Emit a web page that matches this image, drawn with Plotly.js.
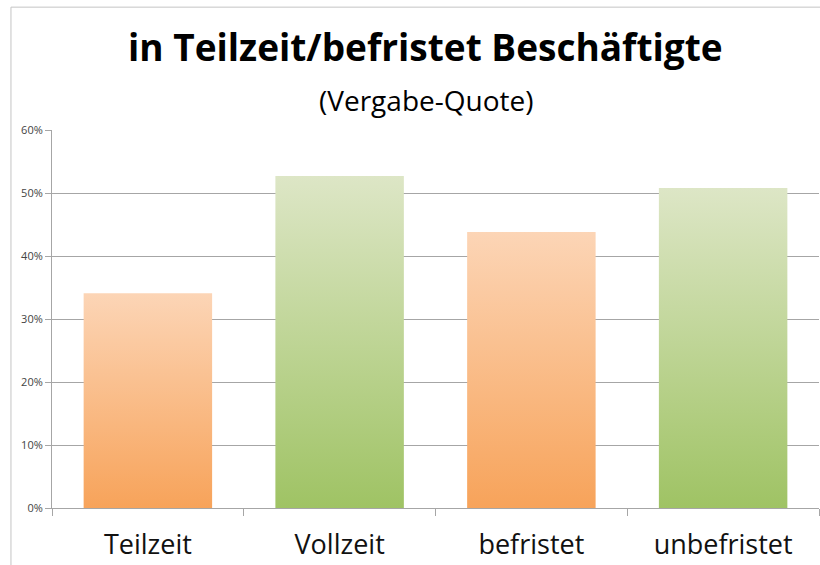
<!DOCTYPE html>
<html>
<head>
<meta charset="utf-8">
<script src="https://cdn.plot.ly/plotly-3.0.1.min.js"></script>
<style>html,body{margin:0;padding:0;background:#fff}#chart{width:820px;height:565px}</style>
</head>
<body>
<div id="chart"></div>
<script>
const categories = ['Teilzeit', 'Vollzeit', 'befristet', 'unbefristet'];
const values = [0.341, 0.527, 0.438, 0.508];
const topColors = ['#fcd5b6', '#dde6c6', '#fcd5b6', '#dde6c6'];
const bottomColors = ['#f7a35a', '#9fc364', '#f7a35a', '#9fc364'];
const titleText = '<b>in Teilzeit/befristet Beschäftigte</b>';
const subtitleText = '(Vergabe-Quote)';

const trace = {
  type: 'bar',
  x: categories,
  y: values,
  width: 0.67,
  marker: {color: bottomColors, line: {width: 0}},
  hoverinfo: 'x+y'
};

const font = '"Open Sans", "Noto Sans", sans-serif';
const layout = {
  width: 820, height: 565,
  margin: {l: 52, r: 1, t: 130, b: 57},
  paper_bgcolor: '#ffffff', plot_bgcolor: '#ffffff',
  showlegend: false,
  font: {family: font, color: '#222'},
  xaxis: {
    type: 'category', range: [-0.5, 3.5],
    showgrid: false, showline: true, linecolor: '#a6a6a6', linewidth: 1,
    ticks: 'outside', tickson: 'boundaries', ticklen: 7, tickcolor: '#a6a6a6',
    ticklabelstandoff: 13,
    tickfont: {size: 27, color: '#111', family: font}, zeroline: false, fixedrange: true
  },
  yaxis: {
    range: [0, 0.6], dtick: 0.1, tickformat: '.0%',
    showgrid: true, gridcolor: '#a6a6a6', gridwidth: 1,
    showline: true, linecolor: '#a6a6a6', linewidth: 1,
    ticks: 'outside', ticklen: 6, tickcolor: '#a6a6a6',
    tickfont: {size: 11, color: '#444', family: font}, zeroline: false, fixedrange: true
  },
  annotations: [
    {text: titleText, xref: 'paper', yref: 'paper', x: 0.487, y: 1.22, xanchor: 'center', yanchor: 'middle',
     showarrow: false, font: {size: 37, color: '#000', family: font}},
    {text: subtitleText, xref: 'paper', yref: 'paper', x: 0.488, y: 1.079, xanchor: 'center', yanchor: 'middle',
     showarrow: false, font: {size: 28, color: '#000', family: font}}
  ],
  shapes: [
    {type: 'line', xref: 'paper', yref: 'paper', x0: -0.0535, x1: -0.0535, y0: -0.16, y1: 1.325,
     line: {color: '#c4c4c4', width: 1}},
    {type: 'line', xref: 'paper', yref: 'paper', x0: -0.0535, x1: 1.01, y0: 1.325, y1: 1.325,
     line: {color: '#c4c4c4', width: 1}}
  ]
};

Plotly.newPlot('chart', [trace], layout, {displayModeBar: false, staticPlot: true}).then(function (gd) {
  const svg = gd.querySelector('svg.main-svg');
  const ns = 'http://www.w3.org/2000/svg';
  let defs = svg.querySelector('defs');
  if (!defs) { defs = document.createElementNS(ns, 'defs'); svg.insertBefore(defs, svg.firstChild); }
  const paths = gd.querySelectorAll('.barlayer .point path');
  paths.forEach(function (p, i) {
    const id = 'bargrad' + i;
    const g = document.createElementNS(ns, 'linearGradient');
    g.setAttribute('id', id);
    g.setAttribute('x1', '0'); g.setAttribute('y1', '0');
    g.setAttribute('x2', '0'); g.setAttribute('y2', '1');
    const s1 = document.createElementNS(ns, 'stop');
    s1.setAttribute('offset', '0'); s1.setAttribute('stop-color', topColors[i]);
    const s2 = document.createElementNS(ns, 'stop');
    s2.setAttribute('offset', '1'); s2.setAttribute('stop-color', bottomColors[i]);
    g.appendChild(s1); g.appendChild(s2);
    defs.appendChild(g);
    p.style.fill = 'url(#' + id + ')';
  });
});
</script>
</body>
</html>
